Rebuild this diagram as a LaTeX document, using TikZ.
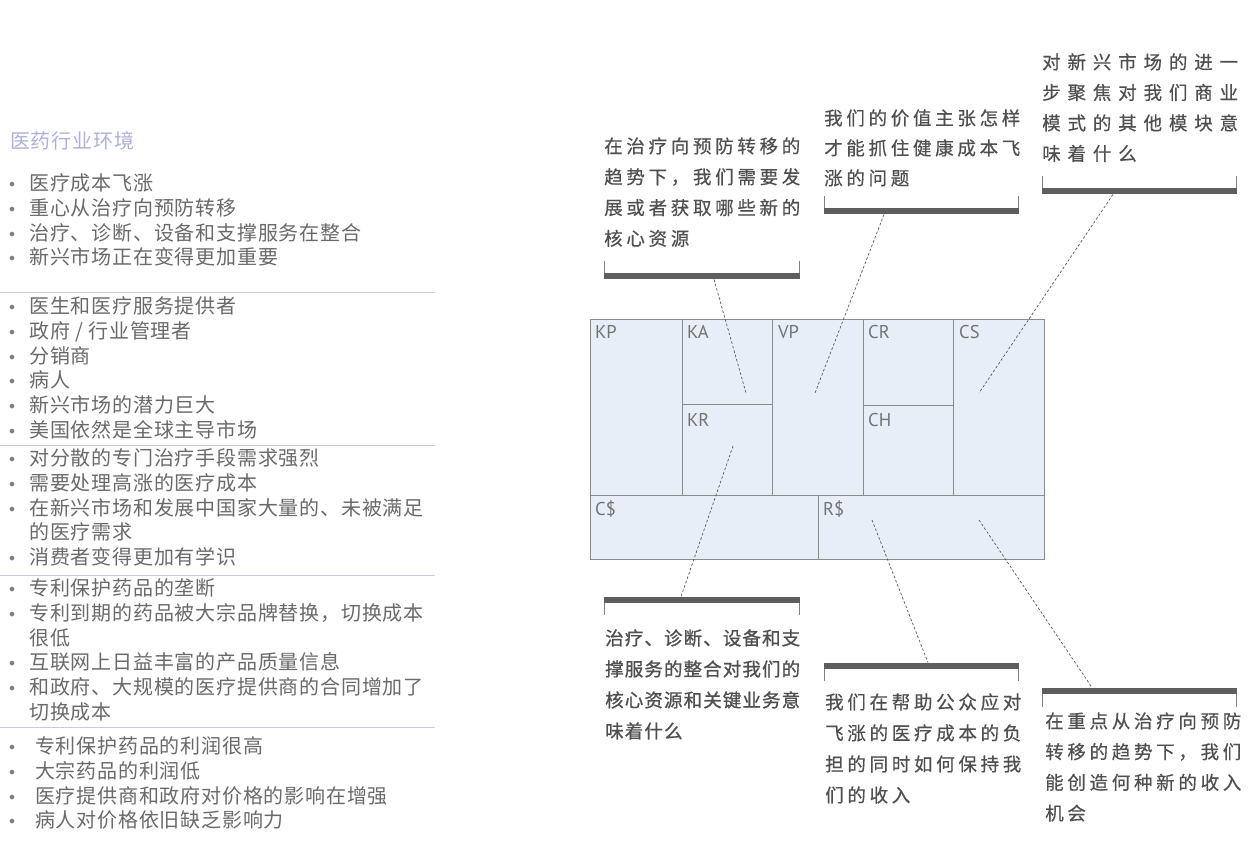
\documentclass[tikz,border=0pt]{standalone}
\usepackage{fontspec}
\setmainfont{Noto Sans CJK SC}
\newfontfamily\cjklist{Noto Sans CJK SC}[LetterSpace=4]
\newfontfamily\cjkq{Noto Sans CJK SC}[LetterSpace=20,FakeBold=0.5]
\newfontfamily\cjkqw{Noto Sans CJK SC}[LetterSpace=37,FakeBold=0.5]
\newfontfamily\cjkqn{Noto Sans CJK SC}[LetterSpace=6,FakeBold=1.0]
\newfontfamily\lblfont{PT Sans}
\newfontfamily\dejavu{DejaVu Sans}
\definecolor{listcol}{HTML}{6A6A6A}
\definecolor{titlecol}{HTML}{AEB2DA}
\definecolor{sepcol}{HTML}{C5CDDF}
\definecolor{qcol}{HTML}{505050}
\definecolor{barcol}{HTML}{5E5E5E}
\definecolor{tickcol}{HTML}{808080}
\definecolor{conncol}{HTML}{5A5A5A}
\definecolor{cellfill}{HTML}{E7EEF7}
\definecolor{cellborder}{HTML}{8C8C8C}
\definecolor{lblcol}{HTML}{747474}
\newcommand\para[2]{\vtop{\baselineskip=#1pt\lineskiplimit=-100pt\lineskip=0pt #2}}
\newcommand\qrow[1]{\hbox{#1}}
\newcommand\bul{\hbox to 5pt{\hss{\color{listcol!85}\dejavu\fontsize{16}{16}\selectfont\raisebox{0pt}{•}}\hss}}
\newcommand\itm[2][20]{\hbox{\hbox to #1pt{\kern0.5pt\bul\hss}#2}}
\newcommand\cont[2][20]{\hbox{\hskip#1pt #2}}
\begin{document}
\begin{tikzpicture}[x=1pt,y=-1pt,
 cell/.style={draw=cellborder, fill=cellfill, line width=0.9pt, inner sep=0, anchor=north west},
 lbl/.style={font=\lblfont\fontsize{18.5}{18.5}\selectfont, text=lblcol, inner sep=0, anchor=base west},
 bar/.style={fill=barcol, draw=none, minimum height=6.5pt, minimum width=196pt, inner sep=0},
 tick/.style={draw=tickcol, line width=0.8pt},
 conn/.style={draw=conncol, line width=0.7pt, dash pattern=on 2.6pt off 2pt},
 q/.style={inner sep=0, anchor=base west, text=qcol, font=\cjkq\fontsize{18.5}{18.5}\selectfont},
 lst/.style={inner sep=0, anchor=base west, text=listcol, font=\cjklist\fontsize{20}{20}\selectfont},
 sepline/.style={draw=sepcol, line width=0.8pt}]
\useasboundingbox (0,0) rectangle (1250,857);
\fill[white] (0,0) rectangle (1250,857);

% ---------- left column ----------
\node[lst, text=titlecol] (title) at (10,148.6) {医药行业环境};
\node[lst] (g1) at (9,190.6) {\para{24.7}{%
 \itm{医疗成本飞涨}
 \itm{重心从治疗向预防转移}
 \itm{治疗、诊断、设备和支撑服务在整合}
 \itm{新兴市场正在变得更加重要}}};
\draw[sepline] (0,292) -- (435,292);
\node[lst] (g2) at (9,313.6) {\para{24.7}{%
 \itm{医生和医疗服务提供者}
 \itm{政府 / 行业管理者}
 \itm{分销商}
 \itm{病人}
 \itm{新兴市场的潜力巨大}
 \itm{美国依然是全球主导市场}}};
\draw[sepline] (0,445) -- (435,445);
\node[lst] (g3) at (9,465.6) {\para{24.7}{%
 \itm{对分散的专门治疗手段需求强烈}
 \itm{需要处理高涨的医疗成本}
 \itm{在新兴市场和发展中国家大量的、未被满足}
 \cont{的医疗需求}
 \itm{消费者变得更加有学识}}};
\draw[sepline] (0,575) -- (435,575);
\node[lst] (g4) at (9,595.6) {\para{24.7}{%
 \itm{专利保护药品的垄断}
 \itm{专利到期的药品被大宗品牌替换，切换成本}
 \cont{很低}
 \itm{互联网上日益丰富的产品质量信息}
 \itm{和政府、大规模的医疗提供商的合同增加了}
 \cont{切换成本}}};
\draw[sepline] (0,727) -- (435,727);
\node[lst] (g5) at (9,753.6) {\para{24.7}{%
 \itm[26]{专利保护药品的利润很高}
 \itm[26]{大宗药品的利润低}
 \itm[26]{医疗提供商和政府对价格的影响在增强}
 \itm[26]{病人对价格依旧缺乏影响力}}};

% ---------- canvas ----------
\node[cell, minimum width=92pt, minimum height=176pt] (KP) at (590,319) {};
\node[cell, minimum width=90pt, minimum height=85pt] (KA) at (682,319) {};
\node[cell, minimum width=90pt, minimum height=91pt] (KR) at (682,404) {};
\node[cell, minimum width=91pt, minimum height=176pt] (VP) at (772,319) {};
\node[cell, minimum width=90pt, minimum height=86pt] (CR) at (863,319) {};
\node[cell, minimum width=90pt, minimum height=90pt] (CH) at (863,405) {};
\node[cell, minimum width=91pt, minimum height=176pt] (CS) at (953,319) {};
\node[cell, minimum width=228pt, minimum height=64pt] (CC) at (590,495) {};
\node[cell, minimum width=226pt, minimum height=64pt] (RR) at (818,495) {};
\node[lbl] (lKP) at (595,338) {KP};
\node[lbl] (lKA) at (687,338) {KA};
\node[lbl] (lVP) at (778,338) {VP};
\node[lbl] (lCR) at (868,338) {CR};
\node[lbl] (lCS) at (959,338) {CS};
\node[lbl] (lKR) at (687,426) {KR};
\node[lbl] (lCH) at (868,426) {CH};
\node[lbl] (lCC) at (595,515) {C\$};
\node[lbl] (lRR) at (823,515) {R\$};

% ---------- question boxes (top) ----------
\node[q] (q1) at (604,153) {\para{30.8}{%
 \qrow{在治疗向预防转移的}\qrow{趋势下，我们需要发}\qrow{展或者获取哪些新的}\qrow{核心资源}}};
\node[bar] (bar1) at (702,276) {};
\draw[tick] (bar1.north west) ++(0.4,0) -- ++(0,-12);
\draw[tick] (bar1.north east) ++(-0.4,0) -- ++(0,-12);

\node[q] (q2) at (824,125) {\para{30}{%
 \qrow{我们的价值主张怎样}\qrow{才能抓住健康成本飞}\qrow{涨的问题}}};
\node[bar, minimum width=195pt] (bar2) at (921.5,211) {};
\draw[tick] (bar2.north west) ++(0.4,0) -- ++(0,-12);
\draw[tick] (bar2.north east) ++(-0.4,0) -- ++(0,-12);

\node[q, font=\cjkqw\fontsize{18.5}{18.5}\selectfont] (q3) at (1042,69) {\para{30.5}{%
 \qrow{对新兴市场的进一}\qrow{步聚焦对我们商业}\qrow{模式的其他模块意}\qrow{味着什么}}};
\node[bar, minimum width=195pt] (bar3) at (1139.5,191) {};
\draw[tick] (bar3.north west) ++(0.4,0) -- ++(0,-12);
\draw[tick] (bar3.north east) ++(-0.4,0) -- ++(0,-12);

% ---------- question boxes (bottom) ----------
\node[bar] (bar4) at (702,600) {};
\draw[tick] (bar4.south west) ++(0.4,0) -- ++(0,12);
\draw[tick] (bar4.south east) ++(-0.4,0) -- ++(0,12);
\node[q, font=\cjkqn\fontsize{18.5}{18.5}\selectfont] (q4) at (605,645) {\para{31}{%
 \qrow{治疗、诊断、设备和支}\qrow{撑服务的整合对我们的}\qrow{核心资源和关键业务意}\qrow{味着什么}}};

\node[bar, minimum width=195pt] (bar5) at (921.5,666) {};
\draw[tick] (bar5.south west) ++(0.4,0) -- ++(0,12);
\draw[tick] (bar5.south east) ++(-0.4,0) -- ++(0,12);
\node[q] (q5) at (825,709) {\para{31}{%
 \qrow{我们在帮助公众应对}\qrow{飞涨的医疗成本的负}\qrow{担的同时如何保持我}\qrow{们的收入}}};

\node[bar, minimum width=195pt] (bar6) at (1139.5,691) {};
\draw[tick] (bar6.south west) ++(0.4,0) -- ++(0,13);
\draw[tick] (bar6.south east) ++(-0.4,0) -- ++(0,13);
\node[q] (q6) at (1045,728) {\para{30.7}{%
 \qrow{在重点从治疗向预防}\qrow{转移的趋势下，我们}\qrow{能创造何种新的收入}\qrow{机会}}};

% ---------- connectors ----------
\coordinate (e1) at (746,393);
\coordinate (e2) at (815,393);
\coordinate (e3) at (979,393);
\coordinate (e4) at (733,446);
\coordinate (e5) at (872,520);
\coordinate (e6) at (979,520);
\draw[conn] ([xshift=12pt]bar1.south) -- (e1);
\draw[conn] ([xshift=-37.5pt]bar2.south) -- (e2);
\draw[conn] ([xshift=-26.5pt]bar3.south) -- (e3);
\draw[conn] (e4) -- ([xshift=-21pt]bar4.north);
\draw[conn] (e5) -- ([xshift=6.5pt]bar5.north);
\draw[conn] (e6) -- ([xshift=-47.5pt]bar6.north);
\end{tikzpicture}
\end{document}
